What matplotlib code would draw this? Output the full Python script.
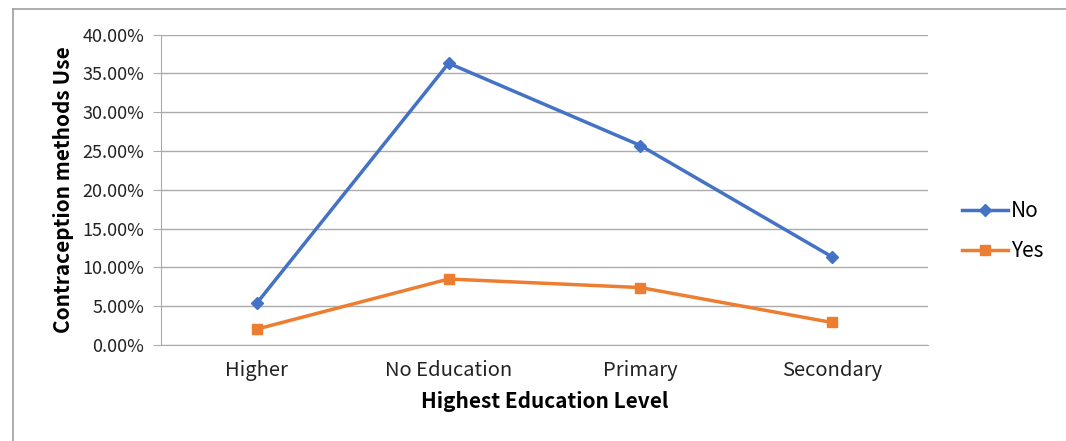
import matplotlib
matplotlib.use("Agg")
import matplotlib.pyplot as plt
from matplotlib.lines import Line2D
from matplotlib.ticker import FuncFormatter

categories = ["Higher", "No Education", "Primary", "Secondary"]
no_vals = [5.4, 36.3, 25.7, 11.35]
yes_vals = [2.05, 8.5, 7.4, 2.9]
yticks = [0, 5, 10, 15, 20, 25, 30, 35, 40]

plt.rcParams['font.family'] = ['Noto Sans CJK SC', 'DejaVu Sans']

W, H = 1066, 441
fig = plt.figure(figsize=(W/100, H/100), dpi=100)
ax = fig.add_axes([161/W, 1-345/H, (928-161)/W, (345-34.5)/H])

x = list(range(len(categories)))
blue = "#4472C4"
orange = "#ED7D31"
ax.plot(x, no_vals, color=blue, lw=2.5, marker="D", ms=6.5, label="No", zorder=3)
ax.plot(x, yes_vals, color=orange, lw=2.5, marker="s", ms=7.5, label="Yes", zorder=3)

ax.set_xlim(-0.5, len(categories)-0.5)
ax.set_ylim(0, 40)
ax.set_yticks(yticks)
ax.yaxis.set_major_formatter(FuncFormatter(lambda v, p: f"{v:.2f}%"))
ax.set_xticks(x)
ax.set_xticklabels(categories)
ax.grid(axis="y", color="#ABABAB", lw=1.0)
ax.set_axisbelow(True)
for s in ["top", "right"]:
    ax.spines[s].set_visible(False)
ax.spines["left"].set_color("#ABABAB")
ax.spines["bottom"].set_color("#ABABAB")
ax.tick_params(axis="y", length=6, color="#ABABAB", labelsize=13, pad=6, labelcolor="#222222")
ax.tick_params(axis="x", length=0, labelsize=14.5, pad=11, labelcolor="#222222")

ax.set_xlabel("Highest Education Level", fontsize=15, fontweight="bold", labelpad=7)
ax.set_ylabel("Contraception methods Use", fontsize=15, fontweight="bold", labelpad=6)

leg = fig.legend(loc="center left", bbox_to_anchor=(943/W, 1-231/H), frameon=False,
                 fontsize=15, handlelength=2.2, handletextpad=0.15, labelspacing=0.85)

# outer frame
fig.add_artist(Line2D([13/W, 13/W], [0, 1-9/H], transform=fig.transFigure, color="#A0A0A0", lw=1.2))
fig.add_artist(Line2D([13/W, 1], [1-9/H, 1-9/H], transform=fig.transFigure, color="#A0A0A0", lw=1.2))

fig.savefig("out.png", dpi=100)
